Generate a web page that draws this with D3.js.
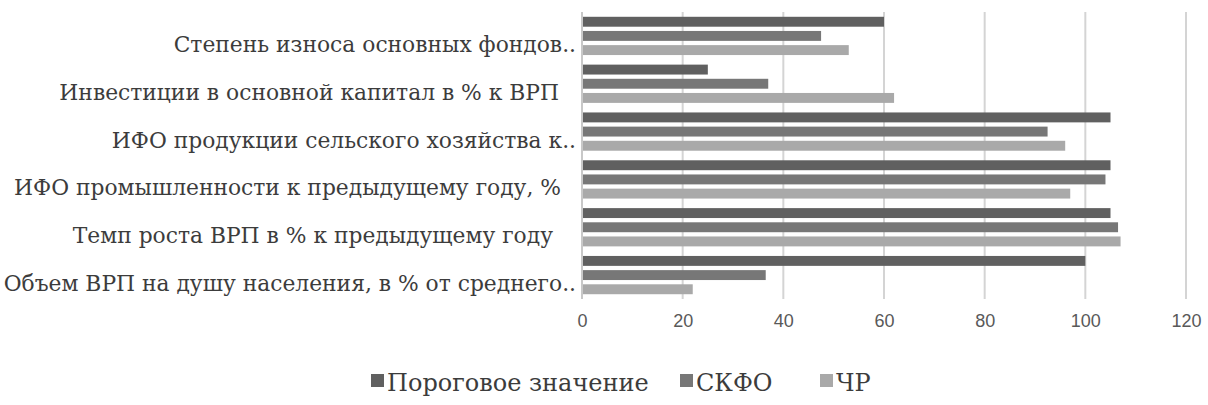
<!DOCTYPE html>
<html>
<head>
<meta charset="utf-8">
<script src="https://cdn.jsdelivr.net/npm/d3@7"></script>
<style>
  html, body { margin: 0; padding: 0; background: #fff; }
  svg { display: block; }
</style>
</head>
<body>
<svg id="chart" width="1208" height="405"></svg>
<script>
// Indicators, listed from the top of the chart down
const categories = [
  "Степень износа основных фондов..",
  "Инвестиции в основной капитал в % к ВРП",
  "ИФО продукции сельского хозяйства к..",
  "ИФО промышленности к предыдущему году, %",
  "Темп роста ВРП в % к предыдущему году",
  "Объем ВРП на душу населения, в % от среднего.."
];
const seriesNames = ["Пороговое значение", "СКФО", "ЧР"];
const thresholdValues = [60, 25, 105, 105, 105, 100];
const skfoValues = [47.5, 37, 92.5, 104, 106.5, 36.5];
const chrValues = [53, 62, 96, 97, 107, 22];
const xTicks = [0, 20, 40, 60, 80, 100, 120];

// styling
const seriesValues = [thresholdValues, skfoValues, chrValues];
const colors = ["#606060", "#777777", "#a9a9a9"];
const serif = "'DejaVu Serif', serif";
const labelRightPad = [0, 17, 0, 15, 23, 0];   // trailing blank space after some labels

const svg = d3.select("#chart");
const plot = { left: 582, right: 1186, top: 12, bottom: 299 };

const x = d3.scaleLinear().domain([0, 120]).range([plot.left, plot.right]);
const y0 = d3.scaleBand().domain(categories).range([plot.top, plot.bottom])
  .paddingInner(0.2).paddingOuter(0.1);
const y1 = d3.scaleBand().domain(seriesNames).range([0, y0.bandwidth()])
  .paddingInner(0.3);

// vertical gridlines
svg.append("g")
  .selectAll("line")
  .data(xTicks)
  .join("line")
  .attr("x1", d => x(d)).attr("x2", d => x(d))
  .attr("y1", plot.top).attr("y2", plot.bottom)
  .attr("stroke", "#d4d4d4")
  .attr("stroke-width", 2);

// bars
const rows = categories.map((c, i) => ({
  category: c,
  values: seriesNames.map((s, j) => ({ series: s, value: seriesValues[j][i], color: colors[j] }))
}));

const groups = svg.append("g")
  .selectAll("g")
  .data(rows)
  .join("g")
  .attr("transform", d => `translate(0,${y0(d.category)})`);

groups.selectAll("rect")
  .data(d => d.values)
  .join("rect")
  .attr("x", x(0))
  .attr("y", d => y1(d.series))
  .attr("width", d => x(d.value) - x(0))
  .attr("height", y1.bandwidth())
  .attr("fill", d => d.color);

// category axis line
svg.append("line")
  .attr("x1", x(0)).attr("x2", x(0))
  .attr("y1", plot.top).attr("y2", plot.bottom)
  .attr("stroke", "#c8c8c8").attr("stroke-width", 2);

// category labels
svg.append("g")
  .selectAll("text")
  .data(categories)
  .join("text")
  .attr("x", (d, i) => 576 - labelRightPad[i])
  .attr("y", d => y0(d) + y0.bandwidth() / 2 + 16)
  .attr("text-anchor", "end")
  .attr("font-family", serif)
  .attr("font-size", 21.8)
  .attr("fill", "#3c3c3c")
  .text(d => d);

// value axis
const xAxis = d3.axisBottom(x).tickValues(xTicks).tickSize(0).tickPadding(0);
const ax = svg.append("g")
  .attr("transform", `translate(0,${plot.bottom + 15})`)
  .call(xAxis);
ax.select(".domain").remove();
ax.selectAll("text")
  .attr("font-family", "'Liberation Sans', Arial, sans-serif")
  .attr("font-size", 18)
  .attr("fill", "#595959");

// legend
const legendX = [371, 680, 820];
const legend = svg.append("g")
  .selectAll("g")
  .data(seriesNames)
  .join("g")
  .attr("transform", (d, i) => `translate(${legendX[i]},382)`);
legend.append("rect")
  .attr("x", 0).attr("y", -8)
  .attr("width", 13).attr("height", 13)
  .attr("fill", (d, i) => colors[i]);
legend.append("text")
  .attr("x", 16).attr("y", 9)
  .attr("font-family", serif)
  .attr("font-size", 24)
  .attr("fill", "#3c3c3c")
  .text(d => d);
</script>
</body>
</html>
